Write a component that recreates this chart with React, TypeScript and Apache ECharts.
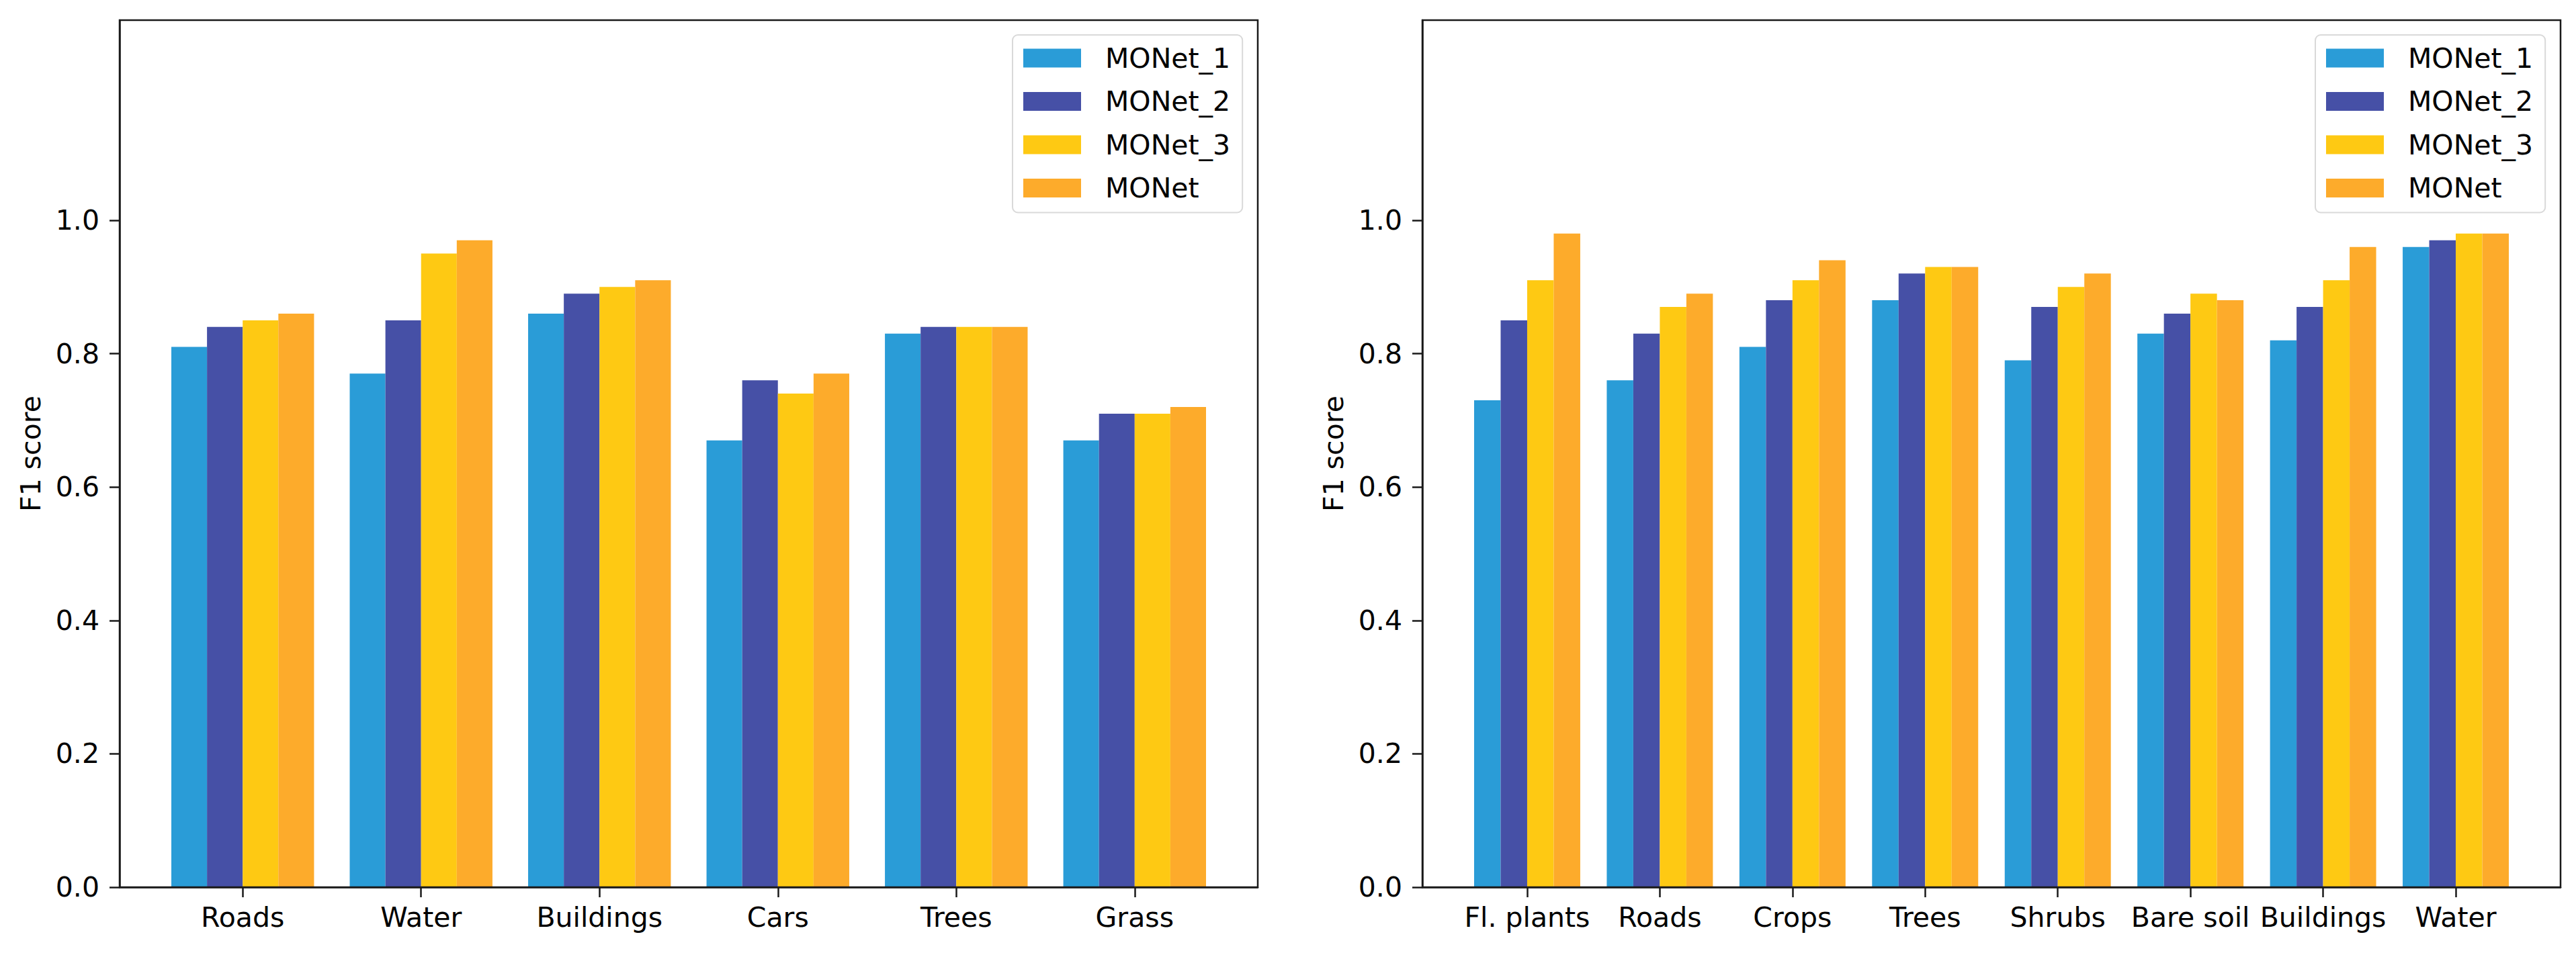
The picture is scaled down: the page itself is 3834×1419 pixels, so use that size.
import React, { useEffect, useRef } from "react";
import * as echarts from "echarts";

const seriesNames = ["MONet_1", "MONet_2", "MONet_3", "MONet"];
const seriesColors = ["#2a9cd7", "#4650a6", "#fec913", "#fdab2b"];

const leftCategories = ["Roads", "Water", "Buildings", "Cars", "Trees", "Grass"];
const leftMONet1 = [0.81, 0.77, 0.86, 0.67, 0.83, 0.67];
const leftMONet2 = [0.84, 0.85, 0.89, 0.76, 0.84, 0.71];
const leftMONet3 = [0.85, 0.95, 0.90, 0.74, 0.84, 0.71];
const leftMONet = [0.86, 0.97, 0.91, 0.77, 0.84, 0.72];

const rightCategories = ["Fl. plants", "Roads", "Crops", "Trees", "Shrubs", "Bare soil", "Buildings", "Water"];
const rightMONet1 = [0.73, 0.76, 0.81, 0.88, 0.79, 0.83, 0.82, 0.96];
const rightMONet2 = [0.85, 0.83, 0.88, 0.92, 0.87, 0.86, 0.87, 0.97];
const rightMONet3 = [0.91, 0.87, 0.91, 0.93, 0.90, 0.89, 0.91, 0.98];
const rightMONet = [0.98, 0.89, 0.94, 0.93, 0.92, 0.88, 0.96, 0.98];

const yTicks = [0, 0.2, 0.4, 0.6, 0.8, 1.0];
const yLabel = "F1 score";

const FONT = "DejaVu Sans";
const FS = 41;

export default function App() {
  const ref = useRef<HTMLDivElement>(null);
  useEffect(() => {
    if (!ref.current) return;
    const chart = echarts.init(ref.current, undefined, { renderer: "svg" });

    const top = 30;
    const height = 1291;
    const frameW = 1694;
    const leftFrame = 178;
    const rightFrame = 2117;
    const leftUnit = frameW / 6.38;
    const rightUnit = frameW / 8.58;

    const grids = [
      { left: leftFrame, top, width: frameW, height, show: true, borderColor: "#1a1a1a", borderWidth: 2.5, backgroundColor: "transparent", z: 5 },
      { left: leftFrame + 0.19 * leftUnit, top, width: 6 * leftUnit, height },
      { left: rightFrame, top, width: frameW, height, show: true, borderColor: "#1a1a1a", borderWidth: 2.5, backgroundColor: "transparent", z: 5 },
      { left: rightFrame + 0.29 * rightUnit, top, width: 8 * rightUnit, height },
    ];

    const frameX = (gi: number) => ({
      type: "value",
      gridIndex: gi,
      min: 0,
      max: 1,
      z: 10,
      axisLine: { show: true, lineStyle: { color: "#1a1a1a", width: 2.5 } },
      axisTick: { show: false },
      axisLabel: { show: false },
      splitLine: { show: false },
    });
    const catX = (gi: number, cats: string[]) => ({
      type: "category",
      gridIndex: gi,
      data: cats,
      axisLine: { show: false },
      axisTick: { show: true, alignWithLabel: true, length: 15, lineStyle: { color: "#1a1a1a", width: 2.5 } },
      axisLabel: { color: "#000", fontFamily: FONT, fontSize: FS, margin: 24, interval: 0 },
      splitLine: { show: false },
    });
    const frameY = (gi: number) => ({
      type: "value",
      gridIndex: gi,
      min: 0,
      max: 1.3,
      z: 10,
      name: yLabel,
      nameLocation: "middle",
      nameGap: 112,
      nameTextStyle: { color: "#000", fontFamily: FONT, fontSize: FS },
      axisLine: { show: true, lineStyle: { color: "#1a1a1a", width: 2.5 } },
      axisTick: { show: true, length: 15, customValues: yTicks, lineStyle: { color: "#1a1a1a", width: 2.5 } },
      axisLabel: {
        color: "#000",
        fontFamily: FONT,
        fontSize: FS,
        margin: 30,
        customValues: yTicks,
        formatter: (v: number) => v.toFixed(1),
      },
      splitLine: { show: false },
    });
    const hiddenY = (gi: number) => ({
      type: "value",
      gridIndex: gi,
      min: 0,
      max: 1.3,
      show: false,
      splitLine: { show: false },
    });

    const leftData = [leftMONet1, leftMONet2, leftMONet3, leftMONet];
    const rightData = [rightMONet1, rightMONet2, rightMONet3, rightMONet];

    const mkSeries = (data: number[][], axisIdx: number) =>
      data.map((d, i) => ({
        type: "bar",
        name: seriesNames[i],
        xAxisIndex: axisIdx,
        yAxisIndex: axisIdx,
        data: d,
        barGap: "0%",
        barCategoryGap: "20%",
        itemStyle: { color: seriesColors[i] },
      }));

    const mkLegend = (left: number) => ({
      left,
      top: 52,
      orient: "vertical",
      data: seriesNames,
      itemWidth: 86,
      itemHeight: 28,
      itemGap: 23.5,
      icon: "rect",
      padding: [14, 18, 16, 16],
      backgroundColor: "#fff",
      borderColor: "#d9d9d9",
      borderWidth: 2,
      borderRadius: 8,
      textStyle: { color: "#000", fontFamily: FONT, fontSize: FS, lineHeight: 41, padding: [0, 0, 0, 31] },
      selectedMode: false,
    });

    chart.setOption({
      animation: false,
      backgroundColor: "#fff",
      grid: grids,
      xAxis: [frameX(0), catX(1, leftCategories), frameX(2), catX(3, rightCategories)],
      yAxis: [frameY(0), hiddenY(1), frameY(2), hiddenY(3)],
      legend: [mkLegend(1507), mkLegend(3446)],
      series: [...mkSeries(leftData, 1), ...mkSeries(rightData, 3)],
    });

    return () => chart.dispose();
  }, []);

  return <div ref={ref} style={{ position: "fixed", left: 0, top: 0, width: 3834, height: 1419 }} />;
}
